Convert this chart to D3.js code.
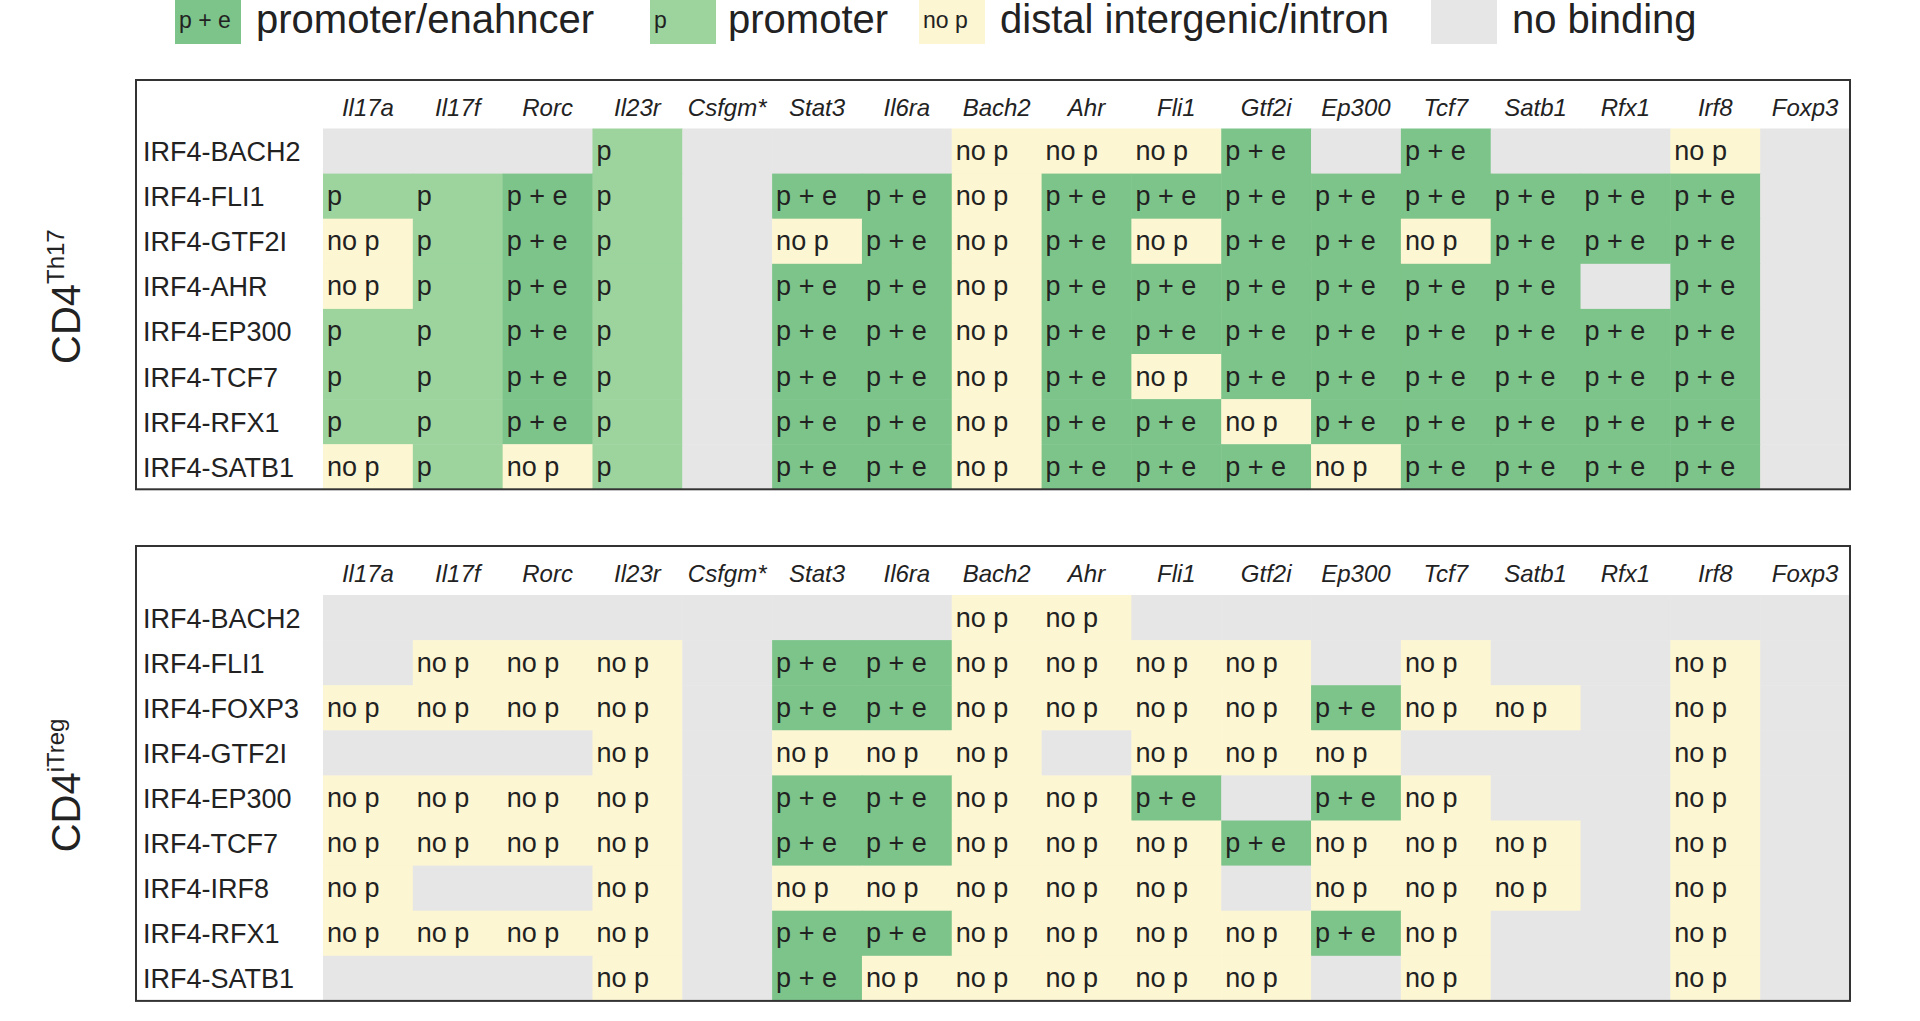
<!DOCTYPE html>
<html><head><meta charset="utf-8">
<script src="https://cdn.jsdelivr.net/npm/d3@7"></script>
<style>body{margin:0;background:#fff}svg{display:block;font-family:"Liberation Sans",Arial,sans-serif}</style>
</head><body><svg id="c" width="1920" height="1021"></svg>
<script>
const genes = ["Il17a","Il17f","Rorc","Il23r","Csfgm*","Stat3","Il6ra","Bach2","Ahr","Fli1","Gtf2i","Ep300","Tcf7","Satb1","Rfx1","Irf8","Foxp3"];
const th17Rows = ["IRF4-BACH2","IRF4-FLI1","IRF4-GTF2I","IRF4-AHR","IRF4-EP300","IRF4-TCF7","IRF4-RFX1","IRF4-SATB1"];
const th17Codes = [
"000P000NNNE0E00N0",
"PPEP0EENEEEEEEEE0",
"NPEP0NENENEENEEE0",
"NPEP0EENEEEEEE0E0",
"PPEP0EENEEEEEEEE0",
"PPEP0EENENEEEEEE0",
"PPEP0EENEENEEEEE0",
"NPNP0EENEEENEEEE0"];
const tregRows = ["IRF4-BACH2","IRF4-FLI1","IRF4-FOXP3","IRF4-GTF2I","IRF4-EP300","IRF4-TCF7","IRF4-IRF8","IRF4-RFX1","IRF4-SATB1"];
const tregCodes = [
"0000000NN00000000",
"0NNN0EENNNN0N00N0",
"NNNN0EENNNNENN0N0",
"000N0NNN0NNN000N0",
"NNNN0EENNE0EN00N0",
"NNNN0EENNNENNN0N0",
"N00N0NNNNN0NNN0N0",
"NNNN0EENNNNEN00N0",
"000N0ENNNNN0N00N0"];
const legendKeys = ["E","P","N","0"];
const legendLabels = ["promoter/enahncer","promoter","distal intergenic/intron","no binding"];
const codeText = {E:"p + e",P:"p",N:"no p","0":""};
const codeColor = {E:"#7dc48a",P:"#9dd49e",N:"#fdf6d2","0":"#e6e6e6"};

const svg = d3.select("#c");
const lx = d3.scaleOrdinal().domain(legendKeys).range([175,650,919,1431]);
legendKeys.forEach((k,i)=>{
  const g = svg.append("g").attr("transform",`translate(${lx(k)},0)`);
  g.append("rect").attr("width",66).attr("height",44).attr("fill",codeColor[k]);
  if(k!=="0") g.append("text").attr("x",4).attr("y",28).attr("font-size",23).attr("fill","#222").text(codeText[k]);
  g.append("text").attr("x",i===1?78:81).attr("y",33).attr("font-size",40).attr("fill","#222").text(legendLabels[i]);
});
function panel(top, rowTop, rows, codes, labelMain, labelSup){
  const left=136, right=1850, cellX0=323, rh=45.1;
  const x = d3.scaleBand().domain(genes).range([cellX0,right]);
  const y = d3.scaleBand().domain(rows).range([rowTop, rowTop+rows.length*rh]);
  const bottom = y.range()[1];
  const g = svg.append("g");
  const cells=[];
  rows.forEach((r,i)=>genes.forEach((c,j)=>cells.push({r,c,k:codes[i][j]})));
  g.selectAll("rect.cell").data(cells).join("rect").attr("class","cell")
    .attr("x",d=>x(d.c)).attr("y",d=>y(d.r)).attr("width",x.bandwidth()+0.5).attr("height",y.bandwidth()+0.5)
    .attr("fill",d=>codeColor[d.k]);
  g.selectAll("text.cell").data(cells.filter(d=>d.k!=="0")).join("text")
    .attr("x",d=>x(d.c)+4).attr("y",d=>y(d.r)+y.bandwidth()/2+9).attr("font-size",27).attr("fill","#222")
    .text(d=>codeText[d.k]);
  g.selectAll("text.hdr").data(genes).join("text")
    .attr("x",d=>x(d)+x.bandwidth()/2).attr("y",rowTop-13).attr("text-anchor","middle")
    .attr("font-size",24).attr("font-style","italic").attr("fill","#222").text(d=>d);
  g.selectAll("text.row").data(rows).join("text")
    .attr("x",left+7).attr("y",d=>y(d)+y.bandwidth()/2+10).attr("font-size",27).attr("fill","#222").text(d=>d);
  g.append("rect").attr("x",left).attr("y",top).attr("width",right-left).attr("height",bottom-top)
    .attr("fill","none").attr("stroke","#333").attr("stroke-width",2);
  const t = g.append("text").attr("transform",`translate(80,${(top+bottom)/2+12}) rotate(-90)`)
    .attr("text-anchor","middle").attr("font-size",40).attr("fill","#222");
  t.append("tspan").text(labelMain);
  t.append("tspan").attr("font-size",24).attr("dy",-16).text(labelSup);
}
panel(80, 128.5, th17Rows, th17Codes, "CD4", "Th17");
panel(546, 595, tregRows, tregCodes, "CD4", "iTreg");
</script></body></html>
